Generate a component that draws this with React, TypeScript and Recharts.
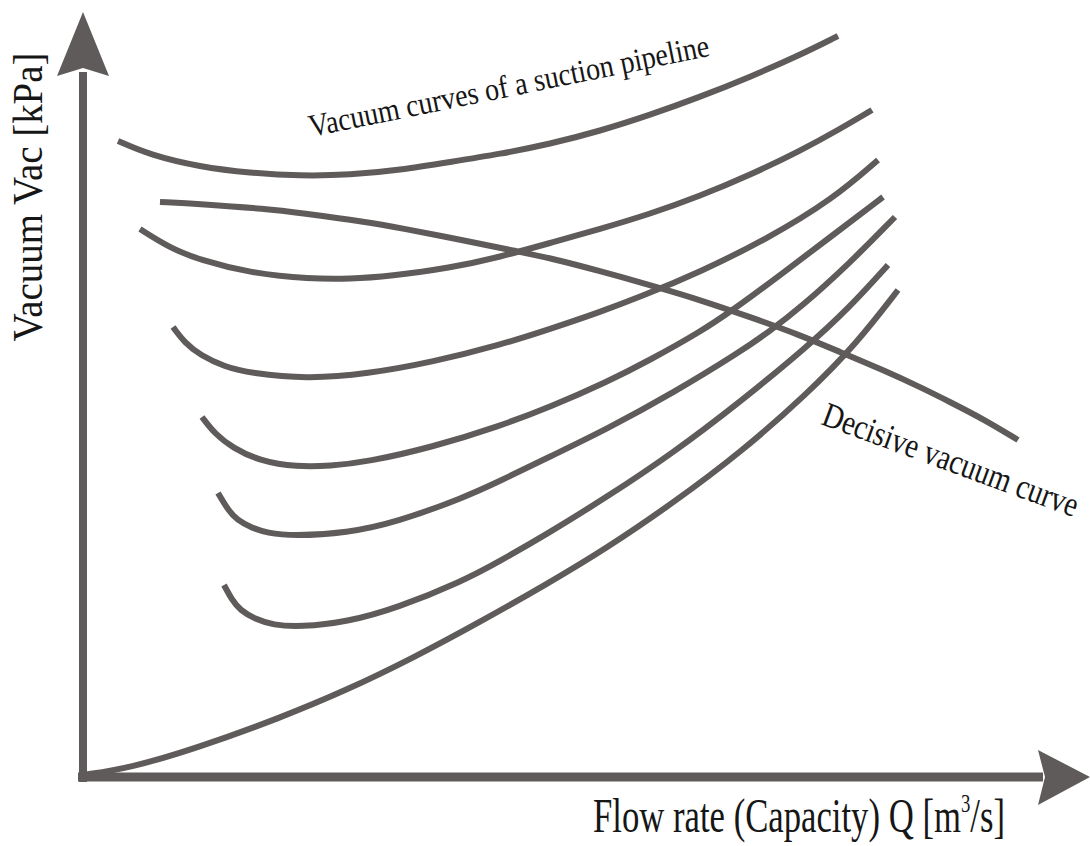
import React from "react";
import { LineChart, Line, XAxis, YAxis, ReferenceLine, ReferenceDot, Customized } from "recharts";

// Flow rate Q (arbitrary units) vs vacuum Vac (arbitrary units), read from the schematic
const suctionCurve1 = [
  { q: 35, v: 636 }, { q: 67, v: 622 }, { q: 117, v: 610 }, { q: 167, v: 604 }, { q: 217, v: 601 },
  { q: 267, v: 602 }, { q: 317, v: 607 }, { q: 367, v: 615 }, { q: 417, v: 623 }, { q: 467, v: 633 },
  { q: 517, v: 646 }, { q: 567, v: 662 }, { q: 617, v: 680 }, { q: 667, v: 700 }, { q: 717, v: 722 },
  { q: 755, v: 741 },
];
const suctionCurve2 = [
  { q: 57, v: 548 }, { q: 87, v: 529 }, { q: 117, v: 517 }, { q: 167, v: 504 }, { q: 227, v: 498 },
  { q: 267, v: 498 }, { q: 307, v: 501 }, { q: 367, v: 509 }, { q: 417, v: 520 }, { q: 467, v: 534 },
  { q: 517, v: 548 }, { q: 567, v: 563 }, { q: 617, v: 581 }, { q: 667, v: 602 }, { q: 717, v: 626 },
  { q: 757, v: 648 }, { q: 789, v: 667 },
];
const suctionCurve3 = [
  { q: 90, v: 450 }, { q: 102, v: 434 }, { q: 117, v: 422 }, { q: 142, v: 410 }, { q: 167, v: 404 },
  { q: 224, v: 398 }, { q: 284, v: 403 }, { q: 350, v: 415 }, { q: 417, v: 432 }, { q: 467, v: 448 },
  { q: 517, v: 465 }, { q: 557, v: 480 }, { q: 617, v: 505 }, { q: 684, v: 538 }, { q: 750, v: 578 },
  { q: 795, v: 617 },
];
const suctionCurve4 = [
  { q: 119, v: 360 }, { q: 132, v: 343 }, { q: 150, v: 329 }, { q: 177, v: 316 }, { q: 214, v: 310 },
  { q: 247, v: 311 }, { q: 284, v: 315 }, { q: 350, v: 330 }, { q: 417, v: 351 }, { q: 467, v: 370 },
  { q: 524, v: 395 }, { q: 567, v: 417 }, { q: 617, v: 445 }, { q: 650, v: 467 }, { q: 700, v: 504 },
  { q: 750, v: 542 }, { q: 800, v: 580 },
];
const suctionCurve5 = [
  { q: 135, v: 284 }, { q: 145, v: 267 }, { q: 154, v: 257 }, { q: 169, v: 249 }, { q: 184, v: 244 },
  { q: 210, v: 241 }, { q: 264, v: 244 }, { q: 314, v: 255 }, { q: 380, v: 279 }, { q: 417, v: 296 },
  { q: 464, v: 319 }, { q: 524, v: 348 }, { q: 590, v: 384 }, { q: 657, v: 425 }, { q: 687, v: 446 },
  { q: 717, v: 469 }, { q: 767, v: 514 }, { q: 812, v: 560 },
];
const suctionCurve6 = [
  { q: 141, v: 192 }, { q: 149, v: 177 }, { q: 157, v: 167 }, { q: 172, v: 158 }, { q: 190, v: 152 },
  { q: 217, v: 150 }, { q: 264, v: 155 }, { q: 314, v: 169 }, { q: 380, v: 196 }, { q: 417, v: 216 },
  { q: 464, v: 243 }, { q: 524, v: 280 }, { q: 590, v: 324 }, { q: 657, v: 375 }, { q: 724, v: 430 },
  { q: 767, v: 470 }, { q: 805, v: 512 },
];
const suctionCurve7 = [
  { q: 0, v: 2 }, { q: 47, v: 9 }, { q: 114, v: 29 }, { q: 197, v: 59 }, { q: 264, v: 87 },
  { q: 330, v: 119 }, { q: 397, v: 155 }, { q: 464, v: 193 }, { q: 524, v: 229 }, { q: 590, v: 274 },
  { q: 657, v: 324 }, { q: 724, v: 383 }, { q: 774, v: 434 }, { q: 815, v: 487 },
];
const decisiveCurve = [
  { q: 77, v: 575 }, { q: 117, v: 573 }, { q: 184, v: 568 }, { q: 217, v: 564 }, { q: 284, v: 555 },
  { q: 317, v: 549 }, { q: 384, v: 536 }, { q: 432, v: 526 }, { q: 467, v: 519 }, { q: 517, v: 506 },
  { q: 577, v: 489 }, { q: 617, v: 477 }, { q: 667, v: 460 }, { q: 717, v: 442 }, { q: 757, v: 425 },
  { q: 800, v: 407 }, { q: 837, v: 390 }, { q: 867, v: 375 }, { q: 902, v: 357 }, { q: 935, v: 337 },
];

const series = [suctionCurve1, suctionCurve2, suctionCurve3, suctionCurve4, suctionCurve5, suctionCurve6, suctionCurve7, decisiveCurve];

const xAxisTitle = "Flow rate (Capacity) Q [m";
const xAxisUnitSup = "3";
const xAxisUnitTail = "/s]";
const yAxisTitle = "Vacuum Vac [kPa]";
const suctionLabel = "Vacuum curves of a suction pipeline";
const decisiveLabel = "Decisive vacuum curve";

const GRAY = "#5f5b5a";
const FONT = "'Liberation Serif', 'Times New Roman', serif";
const TEXT = "#161616";

const UpArrow = (props: any) => {
  const { cx, cy } = props;
  return <polygon points={`${cx - 26},${cy} ${cx},${cy - 64} ${cx + 26},${cy} ${cx},${cy - 8}`} fill={GRAY} />;
};
const RightArrow = (props: any) => {
  const { cx, cy } = props;
  return <polygon points={`${cx},${cy - 27} ${cx + 52},${cy} ${cx},${cy + 28} ${cx + 7},${cy}`} fill={GRAY} />;
};

const Labels = () => (
  <g fontFamily={FONT} fill={TEXT}>
    <text x={42} y={197} fontSize={42} textAnchor="middle" transform="rotate(-90 42 197)" textLength={289} lengthAdjust="spacingAndGlyphs">
      {yAxisTitle}
    </text>
    <text x={593} y={832} fontSize={48} textLength={412} lengthAdjust="spacingAndGlyphs">
      {xAxisTitle}
      <tspan fontSize={26} dy={-20}>{xAxisUnitSup}</tspan>
      <tspan dy={20}>{xAxisUnitTail}</tspan>
    </text>
    <text x={311} y={137} fontSize={32} transform="rotate(-11.5 311 137)" textLength={408} lengthAdjust="spacingAndGlyphs">
      {suctionLabel}
    </text>
    <text x={820} y={424} fontSize={35} transform="rotate(20.2 820 424)" textLength={270} lengthAdjust="spacingAndGlyphs">
      {decisiveLabel}
    </text>
  </g>
);

export default function App() {
  return (
    <div style={{ position: "absolute", left: 0, top: 0, background: "#fff" }}>
      <LineChart width={1090} height={846} margin={{ top: 12, right: 0, bottom: 64, left: 78 }}>
        <XAxis type="number" dataKey="q" domain={[-5, 1007]} hide allowDataOverflow />
        <YAxis type="number" dataKey="v" domain={[-5, 765]} hide allowDataOverflow />
        <ReferenceLine segment={[{ x: -5, y: 0 }, { x: 960, y: 0 }]} stroke={GRAY} strokeWidth={9} ifOverflow="visible" />
        <ReferenceLine segment={[{ x: 0, y: -5 }, { x: 0, y: 705 }]} stroke={GRAY} strokeWidth={8} ifOverflow="visible" />
        <ReferenceDot x={0} y={701} ifOverflow="visible" shape={UpArrow} />
        <ReferenceDot x={955} y={0} ifOverflow="visible" shape={RightArrow} />
        {series.map((d, i) => (
          <Line
            key={i}
            data={d}
            dataKey="v"
            type="basis"
            stroke={GRAY}
            strokeWidth={6}
            dot={false}
            activeDot={false}
            isAnimationActive={false}
            legendType="none"
          />
        ))}
        <Customized component={Labels} />
      </LineChart>
    </div>
  );
}
